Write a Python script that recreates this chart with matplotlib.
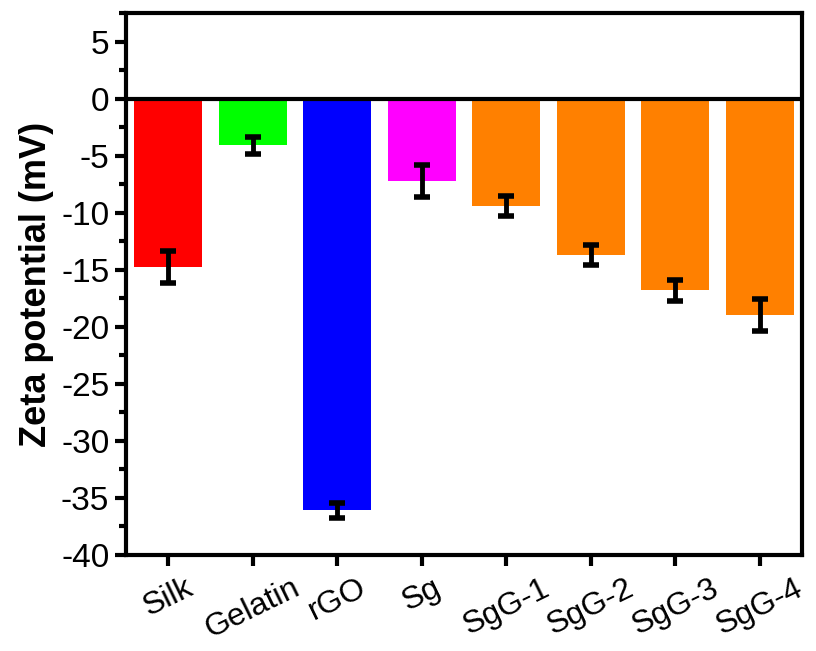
import matplotlib
matplotlib.use("Agg")
import matplotlib.pyplot as plt
from matplotlib.ticker import MultipleLocator

# zeta potential of each sample (mV) with its error
samples = ["Silk", "Gelatin", "rGO", "Sg", "SgG-1", "SgG-2", "SgG-3", "SgG-4"]
zeta = [-14.8, -4.1, -36.1, -7.2, -9.4, -13.7, -16.8, -19.0]
zeta_err = [1.4, 0.75, 0.7, 1.4, 0.85, 0.9, 0.9, 1.4]
bar_colors = ["#ff0000", "#00ff00", "#0000ff", "#ff00ff",
              "#ff8000", "#ff8000", "#ff8000", "#ff8000"]

plt.rcParams["font.family"] = ["Liberation Sans", "DejaVu Sans"]
plt.rcParams["axes.unicode_minus"] = False

fig = plt.figure(figsize=(8.16, 6.51), dpi=100)
ax = fig.add_axes([126 / 816, 96 / 651, 676 / 816, 542 / 651])

x = range(len(samples))
ax.bar(x, zeta, width=0.8, color=bar_colors, zorder=2)
ax.errorbar(x, zeta, yerr=zeta_err, fmt="none", ecolor="black",
            elinewidth=3.5, capsize=6, capthick=4, zorder=3)
ax.axhline(0, color="black", lw=3, zorder=4)

ax.set_xlim(-0.5, 7.5)
ax.set_ylim(-40, 7.5)
ax.yaxis.set_major_locator(MultipleLocator(5))
ax.yaxis.set_minor_locator(MultipleLocator(2.5))
ax.set_xticks(list(x))
ax.set_xticklabels(samples, rotation=26, ha="center", fontsize=23)

for lbl in ax.get_yticklabels():
    lbl.set_fontsize(24)

ax.tick_params(axis="both", which="major", direction="out", length=8, width=3)
ax.tick_params(axis="y", which="major", pad=4)
ax.tick_params(axis="x", which="major", pad=5)
ax.tick_params(axis="y", which="minor", direction="out", length=5, width=3)
for s in ax.spines.values():
    s.set_linewidth(3)

ax.set_ylabel("Zeta potential (mV)", fontsize=26, fontweight="bold")
ax.yaxis.set_label_coords(-0.106, 0.5)

fig.savefig("out.png", dpi=100)
